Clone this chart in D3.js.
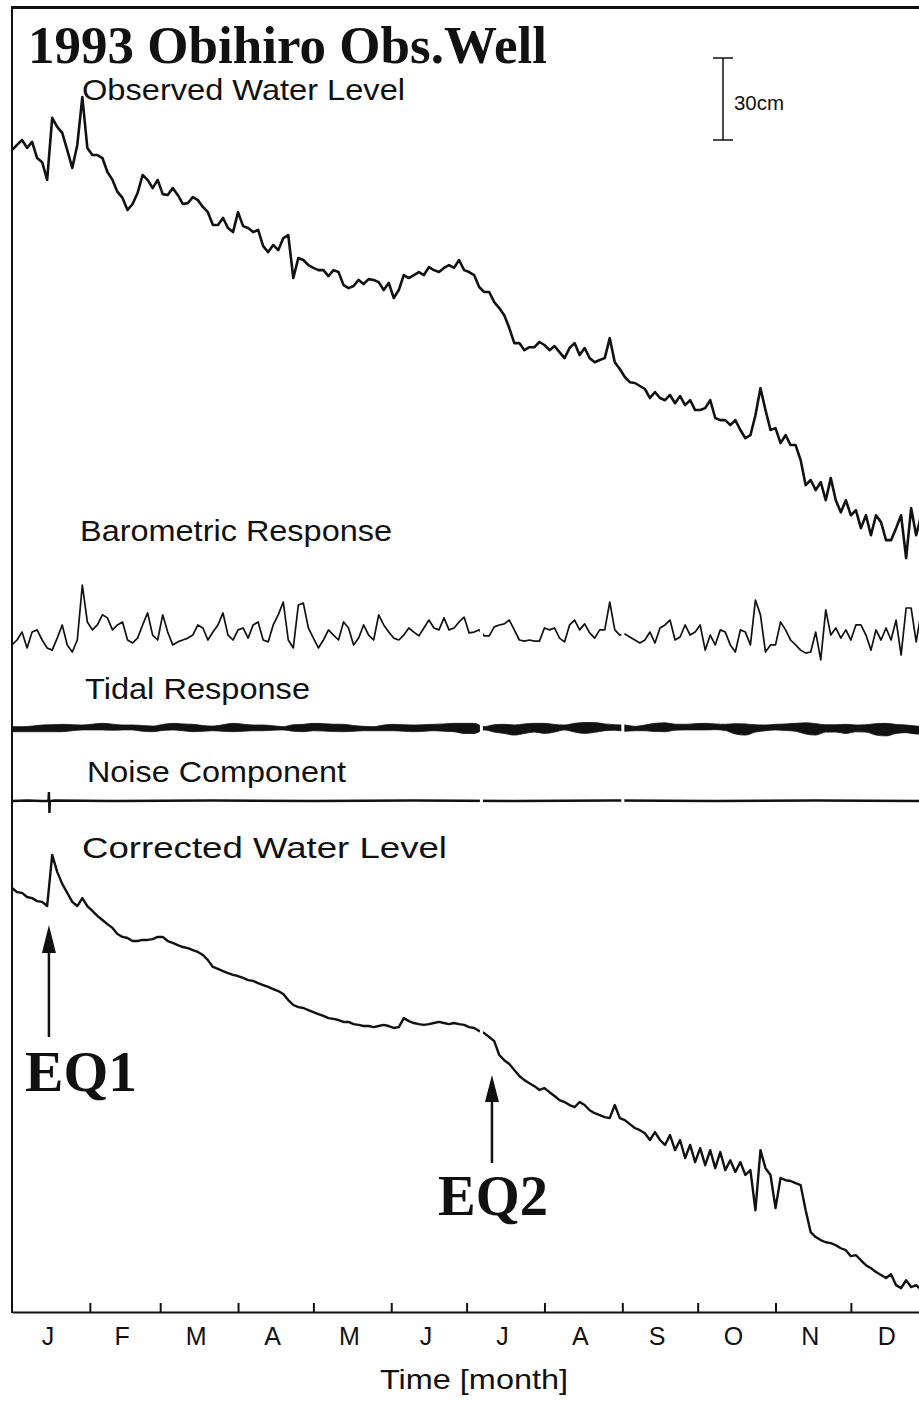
<!DOCTYPE html>
<html><head><meta charset="utf-8">
<script src="https://cdn.jsdelivr.net/npm/d3@7"></script>
<style>body{margin:0;background:#fff} svg{display:block}</style>
</head><body>
<svg id="chart" width="919" height="1401"></svg>
<script>
// ---------------- DATA ----------------
// samples every 2 days from Jan 1 (day 0), values in cm (relative)
const STEP_DAYS = 2;
const observedLevel = [
-3.7,-1.8,0,-2.9,-0.7,-6.6,-8.1,-14.6,8.1,4.8,2.6,-3.7,-10.2,-1.8,15.7,-2.9,-5.5,-5.5,-6.6,-11.7,
-14.6,-19.0,-21.2,-25.6,-23.4,-19.4,-12.8,-14.6,-17.6,-14.6,-19.8,-20.1,-17.6,-20.1,-23.4,-23.1,-20.9,-22.0,-24.5,-26.4,
-31.1,-31.1,-28.5,-32.2,-33.7,-26.4,-31.5,-32.2,-33.7,-32.9,-38.8,-41.0,-38.4,-40.3,-35.9,-34.8,-50.5,-43.2,-43.9,-45.8,
-46.8,-47.6,-47.6,-49.8,-47.6,-48.3,-53.1,-54.2,-53.4,-51.2,-52.7,-50.9,-51.2,-52.0,-54.9,-52.3,-57.8,-54.9,-49.4,-50.5,
-49.4,-48.3,-49.4,-46.5,-47.6,-48.3,-46.8,-45.8,-46.8,-43.9,-47.6,-48.3,-49.4,-53.8,-55.6,-55.6,-59.3,-61.5,-64.1,-68.8,
-74.3,-74.3,-76.9,-75.8,-75.8,-73.9,-75.0,-76.9,-75.4,-77.6,-79.8,-76.1,-74.3,-78.7,-76.1,-79.8,-81.3,-80.5,-79.8,-72.5,
-81.3,-83.8,-86.7,-88.6,-88.9,-90.0,-91.1,-94.4,-92.2,-94.4,-95.2,-93.3,-96.3,-93.7,-97.0,-95.2,-98.8,-98.8,-98.1,-95.2,
-101.7,-102.5,-102.5,-104.3,-102.5,-106.1,-109.1,-108.0,-100.7,-90.8,-98.8,-106.1,-105.4,-110.9,-108.0,-111.6,-111.6,-117.1,-126.3,-124.4,
-128.1,-125.2,-131.8,-123.7,-131.8,-136.2,-131.8,-137.3,-135.4,-142.0,-137.3,-144.6,-137.3,-139.8,-146.4,-146.4,-142.0,-137.3,-153.0,-134.7,
-144.6,-137.3,-146.4
];
const barometricResponse = [
-1.8,0,2.9,-2.9,2.9,3.7,0,-2.9,-3.7,0.7,5.5,-1.8,-4.4,0,20.1,6.6,3.7,5.5,9.2,8.1,
3.7,5.5,6.6,0,-1.1,0.7,5.5,9.9,1.8,0,9.2,2.9,-1.8,-0.7,0,0.7,1.8,5.5,4.4,0,
2.9,5.5,9.9,1.8,0,3.7,4.4,0.7,5.5,6.6,0,-0.7,5.5,9.2,13.9,0,-2.9,12.8,13.5,4.4,
0.7,-2.9,0,3.7,1.8,0,6.6,4.4,-1.8,0.7,5.5,1.8,0,9.2,5.5,2.9,0.7,0,1.8,4.4,
2.9,1.5,4.4,7.3,4.4,3.7,8.1,3.7,4.4,6.6,8.4,2.6,2.9,3.7,1.5,1.5,4.8,5.5,5.9,7.3,
3.7,0,-0.4,0,-0.4,-0.4,4.4,3.7,4.4,0.7,-0.7,5.5,7.3,3.7,5.9,2.6,0.7,3.7,3.7,13.9,
3.7,1.8,2.2,1.1,0,-1.1,0,2.9,-1.1,4.4,5.5,7.3,0,1.1,5.5,1.8,2.9,5.5,-3.7,1.8,
-1.8,3.7,2.9,-1.8,-4.4,3.7,2.9,-1.8,14.6,9.2,-4.4,-1.8,-1.8,6.6,3.7,0,-1.8,-3.7,-4.8,-4.4,
2.9,-7.3,11.0,1.8,4.4,0.7,3.7,0,5.5,5.5,1.8,-3.7,3.7,0,4.4,0,7.3,-5.5,11.7,11.7,
-0.7,10.2,3.7
];
const correctedLevel = [
0,-1.5,-1.8,-3.3,-3.7,-4.8,-5.1,-6.6,12.1,5.9,1.5,-1.8,-5.1,-6.6,-3.7,-6.6,-8.4,-10.2,-11.7,-13.2,
-14.6,-16.8,-17.9,-18.3,-19.4,-19.4,-19.0,-19.0,-18.7,-17.9,-17.9,-19.4,-20.1,-20.9,-21.6,-22.0,-22.7,-23.4,-24.5,-26.4,
-28.9,-29.6,-30.4,-31.1,-31.8,-32.2,-32.9,-33.7,-34.0,-34.8,-35.5,-36.2,-37.0,-37.7,-38.8,-41.0,-42.8,-43.6,-43.9,-44.7,
-45.4,-46.1,-46.8,-47.6,-47.9,-48.3,-49.0,-49.0,-49.8,-50.1,-50.5,-50.5,-50.9,-50.5,-50.1,-50.5,-51.2,-50.9,-47.6,-48.7,
-49.4,-49.8,-50.1,-49.8,-49.4,-49.0,-49.4,-49.8,-49.4,-49.8,-50.1,-50.9,-51.2,-52.3,-53.1,-54.5,-56.0,-61.1,-63.0,-64.4,
-66.6,-68.8,-70.3,-71.4,-72.5,-73.9,-73.2,-74.7,-76.1,-77.6,-78.3,-79.4,-80.2,-78.3,-79.4,-81.3,-82.4,-83.1,-83.8,-84.2,
-79.4,-84.2,-84.9,-86.4,-87.8,-88.6,-89.7,-92.2,-89.3,-92.2,-94.0,-90.4,-95.9,-92.2,-98.8,-94.0,-100.3,-95.2,-101.4,-95.9,
-102.5,-96.6,-103.2,-99.6,-103.9,-100.3,-105.0,-103.2,-117.9,-95.9,-102.5,-105.0,-117.1,-106.1,-106.9,-107.2,-108.0,-108.7,-117.9,-125.9,
-127.7,-128.8,-129.6,-129.9,-130.7,-131.8,-132.5,-134.7,-134.3,-136.2,-138.0,-139.1,-140.5,-141.6,-142.7,-141.3,-145.3,-146.4,-143.5,-146.0,
-145.3,-147.1,-147.9
];
// tidal response envelope, every 4 days (cm above / below mean)
const TIDAL_STEP_DAYS = 4;
const tidalHigh = [
0.5,0.5,0.7,1.1,1.2,1.35,1.2,1.1,1.4,1.7,1.4,1.1,1.1,0.9,0.7,1.3,1.7,1.5,1.35,0.9,
0.7,1.2,1.7,1.4,1.1,1.1,0.8,0.5,1.2,1.35,1.7,1.6,1.4,1.35,0.9,0.6,0.5,1.1,1.35,1.2,
1.1,1.2,1.35,1.5,1.7,1.7,1.7,0.5,1.2,1.35,1.1,1.5,1.7,1.7,1.3,1.1,1.7,2.0,2.0,1.5,
1.2,1.1,0.6,1.1,1.7,1.9,1.4,1.35,1.6,1.7,1.5,1.35,1.6,1.5,1.2,1.1,1.35,1.5,1.7,1.9,
1.6,1.2,1.2,1.35,1.1,1.2,1.6,1.7,1.3,1.1,0.7,0.5
];
const tidalLow = [
-1.35,-1.35,-1.35,-1.35,-1.35,-1.35,-1.0,-0.7,-0.7,-0.7,-0.8,-0.7,-0.7,-1.2,-1.35,-0.9,-0.7,-1.0,-1.35,-1.2,
-1.0,-1.2,-1.35,-1.2,-1.0,-1.0,-0.8,-0.7,-1.2,-1.35,-1.0,-1.1,-1.3,-1.35,-1.2,-1.0,-1.0,-1.0,-1.0,-1.2,
-1.35,-1.2,-1.0,-1.2,-1.35,-2.0,-2.0,-0.7,-1.5,-2.0,-2.6,-2.0,-1.5,-2.0,-1.5,-0.7,-1.5,-2.0,-1.6,-1.0,
-0.8,-1.2,-1.0,-1.0,-1.3,-1.35,-0.8,-0.7,-0.7,-0.7,-0.6,-0.9,-2.2,-2.6,-1.5,-1.0,-0.7,-0.9,-1.2,-2.2,
-2.6,-1.5,-1.5,-2.0,-1.4,-1.5,-2.6,-2.9,-2.0,-1.7,-2.2,-2.2
];
// noise component (cm)
const noiseDays   = [0, 6, 12, 14.5, 14.7, 14.9, 15.1, 17, 40, 80, 120, 160, 200, 240, 280, 320, 365];
const noiseValues = [0, 0.2, 0, 0, 3.3, -4.4, 0, 0.2, 0, 0.2, 0, 0.2, 0, 0.2, 0, 0.2, 0];
// data gaps (days); second gap does not reach the corrected record
const gapStartDays  = [186.3, 242.6];
const gapLengthDays = [1.2, 1.2];
// time axis
const monthStartDays = [0,31,59,90,120,151,181,212,243,273,304,334,365];
const monthLabels = ["J","F","M","A","M","J","J","A","S","O","N","D"];
// earthquakes
const eqDays = [14.7, 191.1];
const eqLabels = ["EQ1","EQ2"];
const scaleBarCm = 30;

// ---------------- LAYOUT ----------------
const svg = d3.select("#chart");
const X0 = 12, PX_PER_DAY = 2.5116;
const x = d3.scaleLinear().domain([0, 365]).range([X0, X0 + 365 * PX_PER_DAY]);
const CM_PX = 82 / 30;
function panel(base) { return d3.scaleLinear().domain([0, 30]).range([base, base - 30 * CM_PX]); }
const yObs = panel(140), yBaro = panel(640), yTide = panel(728), yNoise = panel(801), yCorr = panel(888);

const sans = "'Liberation Sans', Arial, Helvetica, sans-serif";
const serif = "'Liberation Serif', 'Times New Roman', serif";

function drawSeries(vals, y, sw) {
  const line = d3.line()
    .defined(d => d != null)
    .x((d, i) => x(i * STEP_DAYS))
    .y(d => y(d))
    .curve(d3.curveLinear);
  svg.append("path").datum(vals).attr("d", line)
    .attr("fill", "none").attr("stroke", "#111").attr("stroke-width", sw)
    .attr("stroke-linejoin", "round");
}
drawSeries(observedLevel, yObs, 2.6);
drawSeries(barometricResponse, yBaro, 1.7);
drawSeries(correctedLevel, yCorr, 2.4);

// tidal band
const tideArea = d3.area()
  .x((d, i) => x(i * TIDAL_STEP_DAYS))
  .y0((d, i) => yTide(tidalLow[i]))
  .y1((d, i) => yTide(tidalHigh[i]))
  .curve(d3.curveMonotoneX);
svg.append("path").datum(tidalHigh).attr("d", tideArea).attr("fill", "#111")
  .attr("stroke", "#111").attr("stroke-width", 0.8);

// noise
const noiseLine = d3.line().x((d, i) => x(noiseDays[i])).y(d => yNoise(d));
svg.append("path").datum(noiseValues).attr("d", noiseLine)
  .attr("fill", "none").attr("stroke", "#111").attr("stroke-width", 2.4);

// gaps in record
gapStartDays.forEach((g, i) => {
  const bottom = i === 0 ? yCorr(-160) : yNoise(-6);
  svg.append("rect").attr("x", x(g)).attr("width", x(g + gapLengthDays[i]) - x(g))
    .attr("y", yBaro(30)).attr("height", bottom - yBaro(30)).attr("fill", "#fff");
});

// frame
const axisY = 1312;
svg.append("line").attr("x1", X0).attr("x2", 919).attr("y1", 7.5).attr("y2", 7.5)
  .attr("stroke", "#111").attr("stroke-width", 3);
svg.append("line").attr("x1", X0).attr("x2", X0).attr("y1", 6).attr("y2", axisY + 1)
  .attr("stroke", "#111").attr("stroke-width", 2);

// axis
const axis = d3.axisBottom(x).tickValues(monthStartDays.slice(1, 12))
  .tickSizeInner(-9).tickSizeOuter(0).tickFormat("");
const ag = svg.append("g").attr("transform", `translate(0,${axisY})`).call(axis);
ag.select(".domain").attr("stroke", "#111").attr("stroke-width", 2);
ag.selectAll(".tick line").attr("stroke", "#111").attr("stroke-width", 2);

monthLabels.forEach((m, i) => {
  svg.append("text").attr("x", x((monthStartDays[i] + monthStartDays[i + 1]) / 2) - 3)
    .attr("y", 1345).attr("text-anchor", "middle")
    .attr("font-family", sans).attr("font-size", 25).attr("fill", "#111").text(m);
});
svg.append("text").attr("x", 380).attr("y", 1389).attr("font-family", sans)
  .attr("font-size", 28).attr("textLength", 188).attr("lengthAdjust", "spacingAndGlyphs")
  .attr("fill", "#111").text("Time [month]");

// title & labels
function label(t, lx, ly, size, w, fam, weight) {
  svg.append("text").attr("x", lx).attr("y", ly).attr("font-family", fam || sans)
    .attr("font-size", size).attr("font-weight", weight || "normal")
    .attr("textLength", w).attr("lengthAdjust", "spacingAndGlyphs")
    .attr("fill", "#111").text(t);
}
label("1993 Obihiro Obs.Well", 28, 63, 52, 519, serif, "bold");
label("Observed Water Level", 82, 100, 29, 323);
label("Barometric Response", 80, 541, 29, 312);
label("Tidal Response", 85, 699, 29, 225);
label("Noise Component", 87, 782, 29, 259);
label("Corrected Water Level", 82, 858, 29, 365);

// scale bar
const sbX = 723, sb = d3.scaleLinear().domain([0, scaleBarCm]).range([140, 58]);
svg.append("line").attr("x1", sbX).attr("x2", sbX).attr("y1", sb(0)).attr("y2", sb(scaleBarCm))
  .attr("stroke", "#111").attr("stroke-width", 1.5);
[0, scaleBarCm].forEach(v => svg.append("line").attr("x1", sbX - 10).attr("x2", sbX + 10)
  .attr("y1", sb(v)).attr("y2", sb(v)).attr("stroke", "#111").attr("stroke-width", 1.5));
label("30cm", 734, 110, 20, 50);

// earthquake arrows
const eqArrow = [
  {tip: 925, head: 953, bottom: 1037, lx: 25, ly: 1091, w: 112, size: 56},
  {tip: 1075, head: 1102, bottom: 1163, lx: 438, ly: 1215, w: 110, size: 57}
];
eqDays.forEach((d, i) => {
  const a = eqArrow[i], ax = x(d);
  svg.append("line").attr("x1", ax).attr("x2", ax).attr("y1", a.head).attr("y2", a.bottom)
    .attr("stroke", "#111").attr("stroke-width", 2.5);
  svg.append("path").attr("d", `M${ax},${a.tip} L${ax - 7},${a.head} L${ax + 7},${a.head} Z`)
    .attr("fill", "#111");
  label(eqLabels[i], a.lx, a.ly, a.size, a.w, serif, "bold");
});
</script>
</body></html>
